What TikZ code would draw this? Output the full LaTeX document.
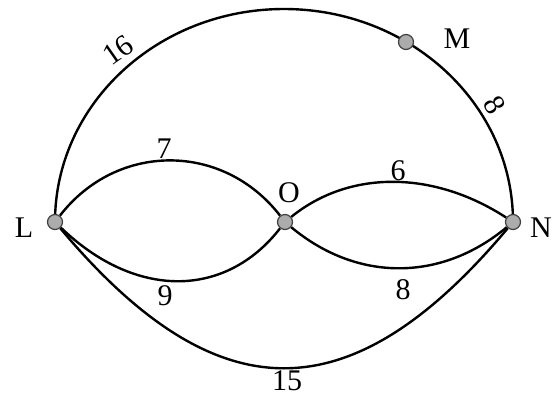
\documentclass[tikz,border=0pt]{standalone}
\usepackage{fontspec}
\setmainfont{Liberation Serif}
\usetikzlibrary{backgrounds}
\begin{document}
\begin{tikzpicture}[x=1pt,y=-1pt,
  dot/.style={circle, fill=gray!65, draw=black!75, line width=1.2pt, minimum size=15pt, inner sep=0pt},
  lbl/.style={font=\fontsize{30}{34}\selectfont, inner sep=0pt},
  edge/.style={line width=2.4pt, black}]
\useasboundingbox (0,0) rectangle (560,398);
\node[dot] (L) at (55,222) {};
\node[dot] (O) at (285,222) {};
\node[dot] (N) at (513,222) {};
\node[dot] (M) at (406,42) {};
\begin{scope}[on background layer]
\draw[edge] (L.center) arc[start angle=180, end angle=0, x radius=229pt, y radius=213pt];
\draw[edge] (L) .. controls (117,142) and (223,142) .. (O);
\draw[edge] (L) .. controls (135,299) and (225,299) .. (O);
\draw[edge] (O) .. controls (349,170) and (433,170) .. (N);
\draw[edge] (O) .. controls (357,282) and (441,282) .. (N);
\draw[edge] (L) .. controls (217,415) and (351,415) .. (N);
\end{scope}
\node[lbl] (tL) at (24,228) {L};
\node[lbl] (tO) at (289,193) {O};
\node[lbl] (tN) at (541,228) {N};
\node[lbl] (tM) at (457,39) {M};
\node[lbl, rotate=35] (t16) at (118,50) {16};
\node[lbl, rotate=-60] (t8a) at (495,105) {8};
\node[lbl] (t7) at (164,149) {7};
\node[lbl] (t9) at (165,296) {9};
\node[lbl] (t6) at (398,171) {6};
\node[lbl] (t8b) at (403,290) {8};
\node[lbl] (t15) at (287,381) {15};
\end{tikzpicture}
\end{document}
